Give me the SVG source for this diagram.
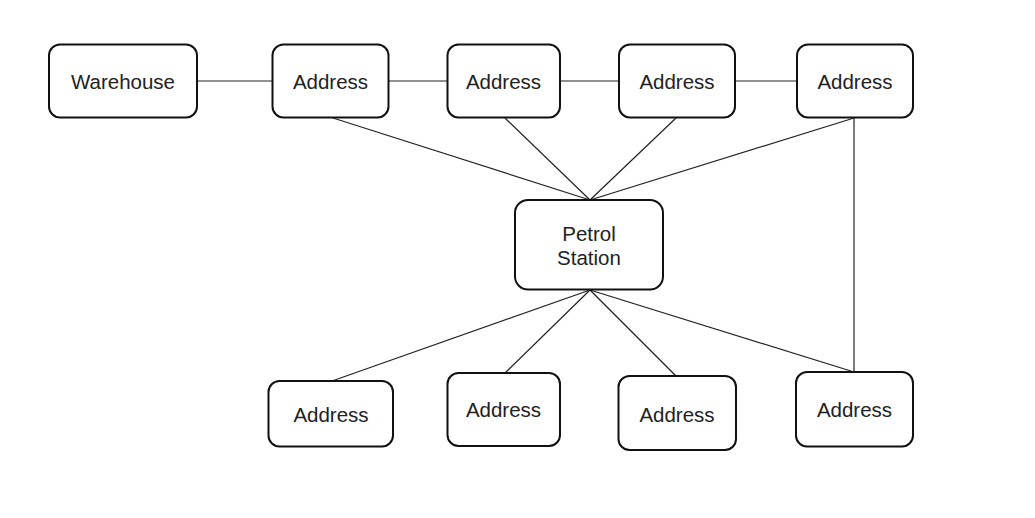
<svg xmlns="http://www.w3.org/2000/svg" width="1035" height="518" viewBox="0 0 1035 518">
<style>
.n{fill:#fff;stroke:#111;stroke-width:2}
.t{font-family:"Liberation Sans",Arial,sans-serif;font-size:20.5px;fill:#222;text-anchor:middle}
.c{stroke:#222;stroke-width:1.2;fill:none}
</style>
<rect width="1035" height="518" fill="#fff"/>
<g id="connectors">
<line class="c" x1="197" y1="81" x2="273" y2="81"/>
<line class="c" x1="388" y1="81" x2="448" y2="81"/>
<line class="c" x1="560" y1="81" x2="619" y2="81"/>
<line class="c" x1="735" y1="81" x2="797" y2="81"/>
<line class="c" x1="333" y1="118" x2="590" y2="200"/>
<line class="c" x1="505" y1="118" x2="590" y2="200"/>
<line class="c" x1="676" y1="118" x2="590" y2="200"/>
<line class="c" x1="854" y1="118" x2="590" y2="200"/>
<line class="c" x1="854" y1="118" x2="854" y2="372"/>
<line class="c" x1="590" y1="290" x2="332" y2="381"/>
<line class="c" x1="590" y1="290" x2="505" y2="373"/>
<line class="c" x1="590" y1="290" x2="676" y2="376"/>
<line class="c" x1="590" y1="290" x2="854" y2="372"/>
</g>
<g id="warehouse"><rect class="n" x="49" y="44.5" width="148" height="73" rx="11"/><text class="t" x="123" y="89">Warehouse</text></g>
<g id="addr1"><rect class="n" x="272.5" y="44.5" width="116" height="73" rx="11"/><text class="t" x="330.5" y="89">Address</text></g>
<g id="addr2"><rect class="n" x="447.5" y="44.5" width="112.5" height="73" rx="11"/><text class="t" x="503.5" y="89">Address</text></g>
<g id="addr3"><rect class="n" x="619" y="44.5" width="116" height="73" rx="11"/><text class="t" x="677" y="89">Address</text></g>
<g id="addr4"><rect class="n" x="797" y="44.5" width="116" height="73" rx="11"/><text class="t" x="855" y="89">Address</text></g>
<g id="petrol"><rect class="n" x="515" y="200" width="148" height="89.5" rx="13"/><text class="t" x="589" y="240.5">Petrol</text><text class="t" x="589" y="265">Station</text></g>
<g id="addr5"><rect class="n" x="268.5" y="381" width="124.5" height="65.5" rx="11"/><text class="t" x="331" y="421.5">Address</text></g>
<g id="addr6"><rect class="n" x="447.5" y="373" width="112.5" height="73" rx="11"/><text class="t" x="503.5" y="416.5">Address</text></g>
<g id="addr7"><rect class="n" x="618.5" y="376" width="117.5" height="74" rx="11"/><text class="t" x="677" y="421.5">Address</text></g>
<g id="addr8"><rect class="n" x="796" y="372" width="117" height="74.5" rx="11"/><text class="t" x="854.5" y="416.5">Address</text></g>
</svg>
